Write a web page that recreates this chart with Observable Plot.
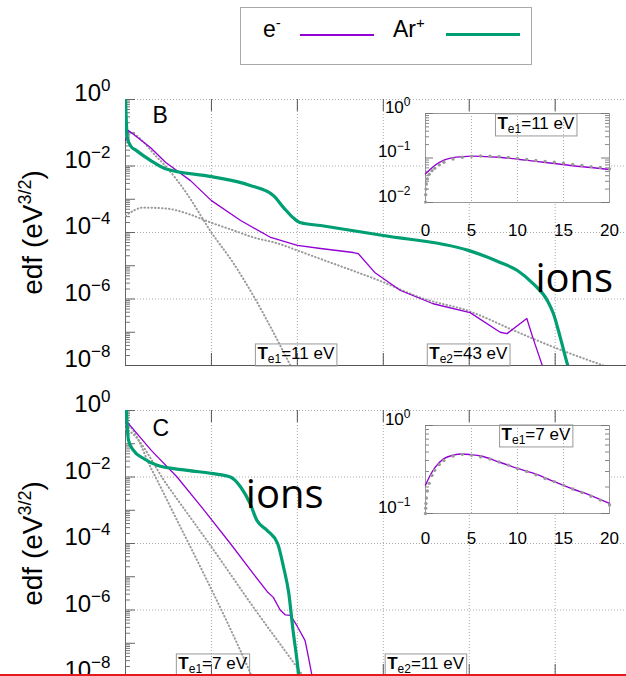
<!DOCTYPE html>
<html>
<head>
<meta charset="utf-8">
<script src="https://cdn.jsdelivr.net/npm/d3@7"></script>
<script src="https://cdn.jsdelivr.net/npm/@observablehq/plot@0.6"></script>
<style>
  html, body { margin: 0; padding: 0; background: #fff; overflow: hidden; }
  #fig { position: relative; width: 626px; height: 676px; overflow: hidden;
         font-family: "Liberation Sans", Arial, Helvetica, sans-serif; color: #000; }
  .legend { position: absolute; left: 240px; top: 7px; width: 292px; height: 58px;
            border: 1px solid #aaa; box-sizing: border-box; background: #fff; }
  .legend .lab { position: absolute; top: 10px; font-size: 23px; line-height: 23px; white-space: nowrap; }
  .legend .lab sup { font-size: 15px; line-height: 0; vertical-align: 9px; }
  .legend .swatch { position: absolute; width: 74px; }
  .edge { position: absolute; left: 0; top: 674px; width: 626px; height: 2px; background: #e41a1c; }
</style>
</head>
<body>
<div id="fig">
  <div class="legend">
    <span class="lab" style="left:22px">e<sup>-</sup></span>
    <span class="swatch" style="left:59px; top:26px; height:2px; background:#9400d3"></span>
    <span class="lab" style="left:152px">Ar<sup>+</sup></span>
    <span class="swatch" style="left:205px; top:25px; height:3px; background:#009e73"></span>
  </div>
</div>
<script>
// ---- Panel B: energy (eV) and distribution values ----
const ionB_E = [0, 1, 2, 6, 12, 29, 46.5, 100, 145, 172, 184, 195, 203, 227, 300, 399, 436, 456, 474, 491, 498, 506, 514, 522];
const ionB_f = [1.0, 0.2, 0.072, 0.04, 0.03, 0.0148, 0.0083, 0.0048, 0.0026, 0.0013, 0.00056, 0.00028, 0.0002, 0.000162,
                8.1e-5, 2.9e-5, 1.26e-5, 7.2e-6, 2.95e-6, 8.9e-7, 3.6e-7, 6.9e-8, 1.15e-8, 2.5e-9];
const elecB_E = [0, 3.5, 29, 46.5, 75.6, 100, 134, 169, 200, 227, 265, 271, 290, 320, 358, 401, 436, 444, 467, 474, 485, 495];
const elecB_f = [0.059, 0.117, 0.036, 0.0129, 0.00363, 0.00091, 0.000229, 7.1e-5, 4.1e-5, 3.3e-5, 2.5e-5, 2.3e-5,
                 6.3e-6, 1.8e-6, 7.2e-7, 3.9e-7, 1.0e-7, 9.1e-8, 2.6e-7, 6.9e-8, 1.0e-8, 1.5e-9];
const te1B_E = [0, 3.5, 37, 46.5, 72, 100, 125, 151, 172, 192, 200];
const te1B_f = [0.079, 0.102, 0.018, 0.01, 0.0014, 1e-4, 1.26e-5, 1e-6, 1e-7, 1e-8, 4e-9];
const te2B_E = [0, 21, 49, 72, 99, 126, 149, 177, 203, 227, 300, 343, 401, 453, 499, 556, 600];
const te2B_f = [3.2e-4, 5.6e-4, 5.2e-4, 3.7e-4, 2.0e-4, 1.15e-4, 7.1e-5, 4.7e-5, 2.7e-5, 1.6e-5, 3.2e-6, 1.1e-6,
                4.2e-7, 1.1e-7, 3.5e-8, 1e-8, 4e-9];

// ---- Panel C ----
const ionC_E = [1, 3.5, 9.3, 21, 37, 72, 102, 122, 134, 145, 153, 165, 177, 184, 190, 195, 200, 204];
const ionC_f = [1.0, 0.126, 0.063, 0.036, 0.0224, 0.0158, 0.0126, 0.01, 0.005, 0.00158, 0.00049, 0.000245, 1e-4,
                1.9e-5, 3.2e-6, 2.4e-7, 2.5e-8, 3e-9];
const elecC_E = [0, 2.3, 30, 60, 90, 122, 150, 165, 172, 180, 186, 192, 200, 209, 213, 217, 222];
const elecC_f = [0.41, 0.44, 0.063, 0.01, 0.00112, 1e-4, 1.12e-5, 3.55e-6, 2.4e-6, 1e-6, 7.1e-7, 6.9e-7, 3.2e-7,
                 1.2e-7, 3.7e-8, 1.07e-8, 2.5e-9];
const te1C_E = [0, 3.5, 30, 60, 90, 120, 147, 155];
const te1C_f = [0.38, 0.355, 0.0178, 5e-4, 1.4e-5, 3.5e-7, 1e-8, 3.2e-9];
const te2C_E = [0, 3.5, 50, 100, 150, 207, 215];
const te2C_f = [0.28, 0.25, 0.005, 7.9e-5, 1.1e-6, 1e-8, 5e-9];

// ---- Low-energy insets (0–20 eV) ----
const insetB_E = [0, 0.5, 1, 2, 3, 4, 5, 6, 8, 10, 12, 14, 16, 18, 20];
const insetB_f = [0.044, 0.055, 0.068, 0.09, 0.102, 0.107, 0.11, 0.109, 0.104, 0.094, 0.084, 0.075, 0.067, 0.061, 0.055];
const fitB_E = [0, 0.02, 0.05, 0.1, 0.2, 0.4, 0.7, 1, 1.5, 2, 3, 4, 5, 6, 7, 8, 9, 10, 11, 12, 13, 14, 15, 16, 17, 18, 19, 20];
const fitB_f = [0.0102, 0.015, 0.02, 0.026, 0.034, 0.043, 0.052, 0.059, 0.07, 0.08, 0.095, 0.104, 0.109, 0.111, 0.11,
                0.107, 0.103, 0.098, 0.093, 0.088, 0.084, 0.08, 0.076, 0.072, 0.068, 0.064, 0.061, 0.057];
const insetC_E = [0, 0.5, 1, 2, 3, 4, 5, 6, 8, 10, 12, 14, 16, 18, 20];
const insetC_f = [0.21, 0.27, 0.33, 0.42, 0.46, 0.475, 0.465, 0.45, 0.385, 0.325, 0.28, 0.23, 0.19, 0.16, 0.13];
const fitC_E = fitB_E;
const fitC_f = [0.1, 0.115, 0.13, 0.15, 0.18, 0.22, 0.27, 0.31, 0.36, 0.4, 0.45, 0.47, 0.46, 0.44, 0.415, 0.385, 0.355,
                0.325, 0.3, 0.275, 0.25, 0.23, 0.21, 0.19, 0.173, 0.157, 0.142, 0.125];

// ---- Axes: ticks and labels ----
const energyGrid = [100, 200, 300, 400, 500];
const edfGrid = [1, 1e-2, 1e-4, 1e-6];
const edfLabels = [1, 1e-2, 1e-4, 1e-6, 1e-8];
const decadeExponents = [0, -1, -2, -3, -4, -5, -6, -7, -8];
const mantissas = [2, 3, 4, 5, 6, 7, 8, 9];
const insetEnergyTicks = [0, 5, 10, 15, 20];
const insetGrid = [5, 10, 15];

const decadeEdf = decadeExponents.map(k => 10 ** k);
const minorEdf = decadeExponents.slice(1).flatMap(k => mantissas.map(m => m * 10 ** k));

const FONT = '"Liberation Sans", Arial, Helvetica, sans-serif';
const PURPLE = "#9400d3", GREEN = "#009e73", FIT = "#9a9a9a";
const pow = v => "10^" + Math.round(Math.log10(v));

function mainPanel(cfg) {
  const fw = 626 - 125;
  const fh = cfg.height - cfg.marginTop - cfg.marginBottom;
  const dotted = {stroke: FIT, strokeWidth: 2, strokeDasharray: "0.5,3", strokeLinecap: "round",
                  curve: "monotone-x", clip: true};
  return Plot.plot({
    width: 626, height: cfg.height,
    marginLeft: 125, marginRight: 0, marginTop: cfg.marginTop, marginBottom: cfg.marginBottom,
    x: {domain: [0, 583], axis: null},
    y: {type: "log", domain: [1e-8, 1], axis: null},
    style: {background: "transparent", fontFamily: FONT, overflow: "visible"},
    marks: [
      Plot.gridX(energyGrid, {stroke: "#aaa", strokeOpacity: 1, strokeDasharray: "1,2"}),
      Plot.gridY(edfGrid, {stroke: "#aaa", strokeOpacity: 1, strokeDasharray: "1,2"}),
      Plot.tickX(energyGrid, {x: d => d, stroke: "#555", insetBottom: fh - 12}),
      Plot.tickX(energyGrid, {x: d => d, stroke: "#555", insetTop: fh - 12}),
      Plot.tickY(minorEdf, {y: d => d, stroke: "#777", insetRight: fw - 5}),
      Plot.tickY(decadeEdf, {y: d => d, stroke: "#666", insetRight: fw - 10}),
      Plot.ruleX([0], {stroke: "#666"}),
      Plot.ruleY([1e-8], {stroke: "#555"}),
      Plot.line(cfg.te1.f, {x: cfg.te1.E, y: cfg.te1.f, ...dotted}),
      Plot.line(cfg.te2.f, {x: cfg.te2.E, y: cfg.te2.f, ...dotted}),
      Plot.line(cfg.elec.f, {x: cfg.elec.E, y: cfg.elec.f, stroke: PURPLE, strokeWidth: 1.3, clip: true}),
      Plot.line(cfg.ion.f, {x: cfg.ion.E, y: cfg.ion.f, stroke: GREEN, strokeWidth: 3.2, curve: "monotone-x", clip: true}),
      Plot.text(edfLabels, {y: d => d, frameAnchor: "left", text: pow, textAnchor: "end", lineAnchor: "middle",
                            dx: -15, dy: -6, fontSize: 24}),
      Plot.text(["edf (eV^3/2)"], {frameAnchor: "left", text: d => d, rotate: -90, dx: -92, fontSize: 28,
                                   textAnchor: "middle", lineAnchor: "middle"}),
      Plot.text([cfg.letter], {frameAnchor: "top-left", text: d => d, dx: 27, dy: cfg.letterDy, fontSize: 23,
                               textAnchor: "start", lineAnchor: "middle"}),
      Plot.text(["ions"], {x: cfg.ionsAt[0], y: cfg.ionsAt[1], text: d => d, fontSize: 40, fontFamily: "Open Sans",
                           textAnchor: "start", lineAnchor: "middle"}),
      Plot.text(cfg.temps, {x: "E", frameAnchor: "bottom", text: "label", dx: 3, dy: cfg.tempDy, fontSize: 17,
                            textAnchor: "start", lineAnchor: "middle"})
    ]
  });
}

function inset(cfg) {
  const fw = 245 - 50 - 11;
  return Plot.plot({
    width: 245, height: cfg.height,
    marginLeft: 50, marginRight: 11, marginTop: 13, marginBottom: cfg.marginBottom,
    x: {domain: [0, 20], axis: null},
    y: {type: "log", domain: cfg.domain, axis: null},
    style: {background: "transparent", fontFamily: FONT, overflow: "visible"},
    marks: [
      Plot.frame({fill: "white", stroke: "#999"}),
      Plot.gridX(insetGrid, {stroke: "#aaa", strokeOpacity: 1, strokeDasharray: "1,2"}),
      Plot.tickY(cfg.minor, {y: d => d, stroke: "#888", insetRight: fw - 4}),
      Plot.tickY(cfg.minor, {y: d => d, stroke: "#888", insetLeft: fw - 4}),
      Plot.tickY(cfg.major, {y: d => d, stroke: "#777", insetRight: fw - 8}),
      Plot.tickY(cfg.major, {y: d => d, stroke: "#777", insetLeft: fw - 8}),
      Plot.line(cfg.elec.f, {x: cfg.elec.E, y: cfg.elec.f, stroke: PURPLE, strokeWidth: 1.4, curve: "monotone-x"}),
      Plot.dot(cfg.fit.f, {x: cfg.fit.E, y: cfg.fit.f, r: 1.7, fill: FIT, stroke: "none"}),
      Plot.text(cfg.major, {y: d => d, frameAnchor: "left", text: pow, textAnchor: "end", lineAnchor: "middle",
                            dx: -15, dy: -6, fontSize: 17}),
      Plot.text(insetEnergyTicks, {x: d => d, frameAnchor: "bottom", text: d => String(d), dy: cfg.xLabelDy,
                                   fontSize: 17, lineAnchor: "middle"}),
      Plot.text([cfg.label], {x: 12, frameAnchor: "top", text: d => d, dy: cfg.labelDy, fontSize: 17,
                              textAnchor: "middle", lineAnchor: "middle"})
    ]
  });
}

const fig = document.getElementById("fig");
function place(svg, left, top) {
  svg.style.position = "absolute";
  svg.style.left = left + "px";
  svg.style.top = top + "px";
  fig.appendChild(svg);
  return svg;
}

const panelB = place(mainPanel({
  height: 300, marginTop: 19, marginBottom: 15, letter: "B", letterDy: 16,
  ion: {E: ionB_E, f: ionB_f}, elec: {E: elecB_E, f: elecB_f},
  te1: {E: te1B_E, f: te1B_f}, te2: {E: te2B_E, f: te2B_f},
  ionsAt: [477, 3.9e-6], tempDy: -12,
  temps: [{E: 150, label: "T|e1|=11 eV"}, {E: 350, label: "T|e2|=43 eV"}]
}), 0, 80);

const panelC = place(mainPanel({
  height: 300, marginTop: 20, marginBottom: 14, letter: "C", letterDy: 18,
  ion: {E: ionC_E, f: ionC_f}, elec: {E: elecC_E, f: elecC_f},
  te1: {E: te1C_E, f: te1C_f}, te2: {E: te2C_E, f: te2C_f},
  ionsAt: [140, 2.8e-3], tempDy: -13,
  temps: [{E: 58, label: "T|e1|=7 eV"}, {E: 301, label: "T|e2|=11 eV"}]
}), 0, 390);

const insetB = place(inset({
  height: 145, marginBottom: 43, domain: [0.01, 1],
  major: [1, 0.1, 0.01], minor: [0.1, 0.01].flatMap(b => mantissas.map(m => m * b)),
  elec: {E: insetB_E, f: insetB_f}, fit: {E: fitB_E, f: fitB_f},
  xLabelDy: 28, labelDy: 10, label: "T|e1|=11 eV"
}), 375, 100);

const insetC = place(inset({
  height: 145, marginBottom: 44, domain: [0.1, 1],
  major: [1, 0.1], minor: mantissas.map(m => m * 0.1),
  elec: {E: insetC_E, f: insetC_f}, fit: {E: fitC_E, f: fitC_f},
  xLabelDy: 25, labelDy: 9, label: "T|e1|=7 eV"
}), 375, 412);

const edge = document.createElement("div");
edge.className = "edge";
fig.appendChild(edge);

// ---- rich text: superscripts, subscripts and boxed temperature labels ----
const NS = "http://www.w3.org/2000/svg";
function rich(text, parts) {
  text.textContent = "";
  for (const p of parts) {
    const ts = document.createElementNS(NS, "tspan");
    ts.textContent = p.t;
    if (p.size) ts.setAttribute("font-size", p.size);
    if (p.dy) ts.setAttribute("dy", p.dy);
    if (p.bold) ts.setAttribute("font-weight", "bold");
    text.appendChild(ts);
  }
}
function boxAround(t) {
  const bb = t.getBBox();
  const r = document.createElementNS(NS, "rect");
  r.setAttribute("x", bb.x - 2);
  r.setAttribute("y", bb.y);
  r.setAttribute("width", bb.width + 4);
  r.setAttribute("height", bb.height);
  r.setAttribute("fill", "none");
  r.setAttribute("stroke", "#999");
  const tr = t.getAttribute("transform");
  if (tr) r.setAttribute("transform", tr);
  t.parentNode.insertBefore(r, t);
}
function formatTexts(svg, expSize, rise) {
  svg.querySelectorAll("text").forEach(t => {
    const s = t.textContent;
    if (s.startsWith("10^")) {
      const exp = s.slice(3);
      rich(t, [{t: "10"}, {t: exp.replace("-", "\u2212"), size: expSize, dy: -rise}]);
    } else if (s.startsWith("edf")) {
      rich(t, [{t: "edf (eV"}, {t: "3/2", size: 18, dy: -11}, {t: ")", dy: 11}]);
    } else if (s.includes("|")) {
      const [a, b, c] = s.split("|");
      rich(t, [{t: a, bold: true}, {t: b, size: 12, dy: 4}, {t: c, dy: -4}]);
      boxAround(t);
    }
  });
}
formatTexts(panelB, 17, 10);
formatTexts(panelC, 17, 10);
formatTexts(insetB, 12, 7);
formatTexts(insetC, 12, 7);
</script>
</body>
</html>
